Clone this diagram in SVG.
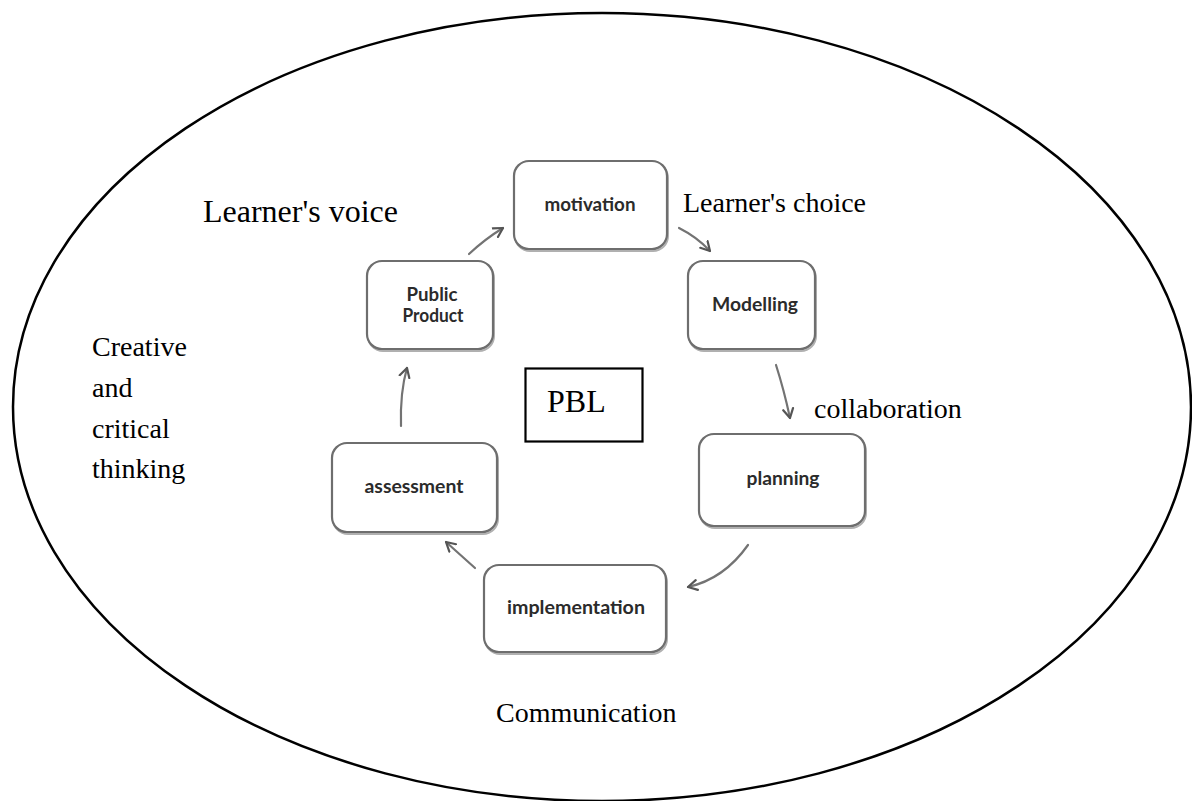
<svg xmlns="http://www.w3.org/2000/svg" width="1192" height="801" viewBox="0 0 1192 801">
<defs>
<style>
.box{fill:#fff;stroke:#6e6e6e;stroke-width:2.2}
.shadow{fill:none;stroke:#b0b0b0;stroke-width:2}
.bt{font-family:Lato,"Open Sans","Liberation Sans",sans-serif;font-weight:bold;font-size:19.5px;fill:#2b2b2b;text-anchor:middle}
.lbl{font-family:"Liberation Serif","Times New Roman",serif;font-size:28px;fill:#000}
.con{fill:none;stroke:#737373;stroke-width:2.2;stroke-linecap:round}
</style>
<marker id="ah" markerUnits="userSpaceOnUse" markerWidth="14" markerHeight="14" refX="10" refY="6" orient="auto" viewBox="0 0 14 12">
<path d="M1,1 L10,6 L1,11" fill="none" stroke="#555" stroke-width="2.2" stroke-linecap="round" stroke-linejoin="round"/>
</marker>
</defs>
<rect width="1192" height="801" fill="#fff"/>
<ellipse id="outer" cx="602" cy="407" rx="589" ry="394" fill="none" stroke="#000" stroke-width="2.5"/>

<g id="motivation">
<rect class="shadow" x="515" y="163" width="153" height="88" rx="15"/>
<rect class="box" x="514" y="161" width="153" height="88" rx="15"/>
<text class="bt" x="590" y="211" textLength="91" lengthAdjust="spacingAndGlyphs">motivation</text>
</g>
<g id="public-product">
<rect class="shadow" x="368" y="263" width="126" height="88" rx="15"/>
<rect class="box" x="367" y="261" width="126" height="88" rx="15"/>
<text class="bt" x="432" y="301" textLength="51" lengthAdjust="spacingAndGlyphs">Public</text>
<text class="bt" x="433" y="322" textLength="61" lengthAdjust="spacingAndGlyphs">Product</text>
</g>
<g id="modelling">
<rect class="shadow" x="689" y="263" width="127" height="88" rx="15"/>
<rect class="box" x="688" y="261" width="127" height="88" rx="15"/>
<text class="bt" x="755" y="311" textLength="86" lengthAdjust="spacingAndGlyphs">Modelling</text>
</g>
<g id="pbl">
<rect x="525.5" y="368.5" width="117" height="73" fill="#fff" stroke="#000" stroke-width="2.2"/>
<text class="lbl" x="547" y="412" style="font-size:32px">PBL</text>
</g>
<g id="assessment">
<rect class="shadow" x="333" y="445" width="165" height="89" rx="15"/>
<rect class="box" x="332" y="443" width="165" height="89" rx="15"/>
<text class="bt" x="414" y="493" textLength="99" lengthAdjust="spacingAndGlyphs">assessment</text>
</g>
<g id="planning">
<rect class="shadow" x="700" y="436" width="166" height="92" rx="15"/>
<rect class="box" x="699" y="434" width="166" height="92" rx="15"/>
<text class="bt" x="783" y="485" textLength="73" lengthAdjust="spacingAndGlyphs">planning</text>
</g>
<g id="implementation">
<rect class="shadow" x="485" y="567" width="182" height="87" rx="15"/>
<rect class="box" x="484" y="565" width="182" height="87" rx="15"/>
<text class="bt" x="576" y="614" textLength="138" lengthAdjust="spacingAndGlyphs">implementation</text>
</g>

<g id="connectors">
<path class="con" d="M469,254 Q485,239 503,228" marker-end="url(#ah)"/>
<path class="con" d="M679,228 Q697,237 710,251" marker-end="url(#ah)"/>
<path class="con" d="M776,365 Q784,390 790,418" marker-end="url(#ah)"/>
<path class="con" d="M748,545 Q724,579 688,587" marker-end="url(#ah)"/>
<path class="con" d="M475,568 L446,542" marker-end="url(#ah)"/>
<path class="con" d="M401,426 Q400,392 407,368" marker-end="url(#ah)"/>
</g>

<g id="labels">
<text class="lbl" x="203" y="222" style="font-size:32px">Learner's voice</text>
<text class="lbl" x="683" y="212">Learner's choice</text>
<text class="lbl" x="814" y="418">collaboration</text>
<text class="lbl" x="496" y="722">Communication</text>
<text class="lbl" x="92" y="356">Creative</text>
<text class="lbl" x="92" y="397">and</text>
<text class="lbl" x="92" y="438">critical</text>
<text class="lbl" x="92" y="478">thinking</text>
</g>
</svg>
